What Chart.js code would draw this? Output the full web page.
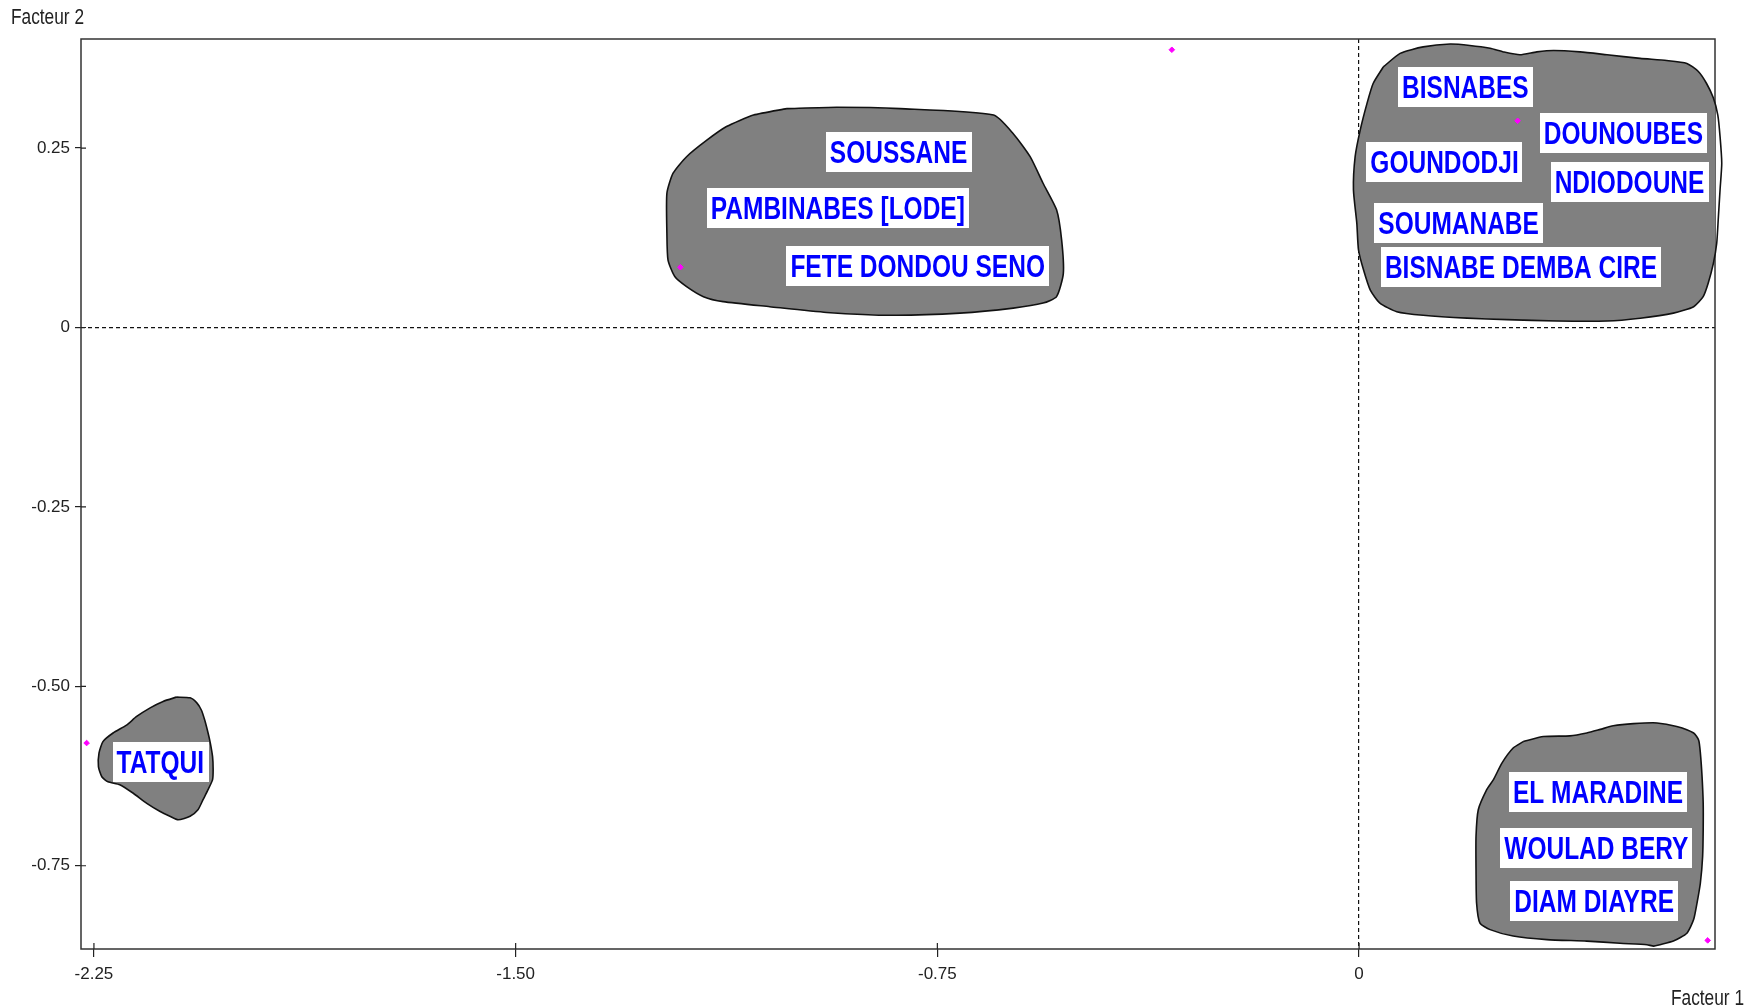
<!DOCTYPE html>
<html>
<head>
<meta charset="utf-8">
<title>Facteur 1 / Facteur 2</title>
<script src="https://cdn.jsdelivr.net/npm/chart.js@4.4.1/dist/chart.umd.min.js"></script>
<style>
  html, body { margin: 0; padding: 0; background: #ffffff; }
  #wrap { width: 1760px; height: 1007px; }
</style>
</head>
<body>
<div id="wrap"><canvas id="plan"></canvas></div>
<script>
// Axis ticks
const xTickValues = [-2.25, -1.5, -0.75, 0];
const xTickLabels = ['-2.25', '-1.50', '-0.75', '0'];
const yTickValues = [-0.75, -0.5, -0.25, 0, 0.25];
const yTickLabels = ['-0.75', '-0.50', '-0.25', '0', '0.25'];
const xRange = [-2.273, 0.633];
const yRange = [-0.866, 0.402];

// Observation points (Facteur 1, Facteur 2)
const pointX = [-0.333, 0.282, -1.207, -2.263, 0.620];
const pointY = [0.387, 0.288, 0.084, -0.579, -0.854];

// Cluster outlines, in factor units
const clusterCentre = [
    [-1.018, 0.305], [-0.929, 0.307], [-0.816, 0.305], [-0.650, 0.296], [-0.615, 0.270],
    [-0.585, 0.238], [-0.562, 0.201], [-0.538, 0.164], [-0.529, 0.122], [-0.526, 0.075],
    [-0.538, 0.043], [-0.562, 0.034], [-0.615, 0.027], [-0.710, 0.020], [-0.828, 0.017],
    [-0.947, 0.021], [-1.048, 0.029], [-1.131, 0.036], [-1.166, 0.043], [-1.196, 0.057],
    [-1.217, 0.071], [-1.229, 0.094], [-1.231, 0.131], [-1.231, 0.187], [-1.220, 0.215],
    [-1.196, 0.238], [-1.160, 0.261], [-1.125, 0.280], [-1.077, 0.296]
];
const clusterNordEst = [
    [0.043, 0.363], [0.073, 0.382], [0.114, 0.391], [0.162, 0.395], [0.197, 0.393],
    [0.233, 0.389], [0.257, 0.384], [0.286, 0.380], [0.316, 0.384], [0.346, 0.386],
    [0.393, 0.384], [0.441, 0.380], [0.500, 0.375], [0.547, 0.372], [0.583, 0.368],
    [0.603, 0.357], [0.618, 0.340], [0.630, 0.320], [0.638, 0.296], [0.642, 0.266],
    [0.645, 0.229], [0.642, 0.192], [0.639, 0.154], [0.636, 0.117], [0.630, 0.089],
    [0.621, 0.062], [0.612, 0.043], [0.595, 0.029], [0.559, 0.020], [0.500, 0.013],
    [0.441, 0.009], [0.352, 0.009], [0.263, 0.011], [0.192, 0.013], [0.114, 0.017],
    [0.067, 0.022], [0.037, 0.034], [0.020, 0.052], [0.008, 0.080], [-0.001, 0.108],
    [-0.004, 0.145], [-0.010, 0.192], [-0.007, 0.238], [0.002, 0.275], [0.014, 0.312],
    [0.025, 0.340]
];
const clusterOuest = [
    [-2.103, -0.515], [-2.079, -0.516], [-2.067, -0.523], [-2.059, -0.533], [-2.053, -0.547],
    [-2.047, -0.565], [-2.043, -0.579], [-2.039, -0.598], [-2.038, -0.616], [-2.039, -0.630],
    [-2.047, -0.644], [-2.056, -0.658], [-2.065, -0.672], [-2.079, -0.681], [-2.100, -0.686],
    [-2.115, -0.681], [-2.133, -0.674], [-2.156, -0.663], [-2.180, -0.649], [-2.204, -0.637],
    [-2.225, -0.633], [-2.236, -0.626], [-2.242, -0.612], [-2.241, -0.593], [-2.234, -0.577],
    [-2.216, -0.565], [-2.192, -0.554], [-2.174, -0.542], [-2.150, -0.530], [-2.127, -0.521]
];
const clusterSudEst = [
    [0.292, -0.577], [0.328, -0.570], [0.375, -0.569], [0.405, -0.565], [0.429, -0.560],
    [0.452, -0.555], [0.488, -0.552], [0.530, -0.551], [0.565, -0.556], [0.595, -0.565],
    [0.604, -0.575], [0.607, -0.593], [0.610, -0.626], [0.612, -0.663], [0.612, -0.700],
    [0.611, -0.737], [0.607, -0.774], [0.601, -0.802], [0.595, -0.825], [0.583, -0.844],
    [0.559, -0.855], [0.535, -0.860], [0.524, -0.862], [0.512, -0.860], [0.464, -0.858],
    [0.405, -0.855], [0.334, -0.853], [0.274, -0.848], [0.233, -0.839], [0.215, -0.830],
    [0.209, -0.802], [0.208, -0.756], [0.208, -0.709], [0.212, -0.672], [0.227, -0.644],
    [0.239, -0.630], [0.254, -0.607], [0.274, -0.586]
];

// Village labels, centred on (labelX, labelY)
const labelNames = ['SOUSSANE', 'PAMBINABES [LODE]', 'FETE DONDOU SENO',
    'BISNABES', 'DOUNOUBES', 'GOUNDODJI', 'NDIODOUNE', 'SOUMANABE', 'BISNABE DEMBA CIRE',
    'TATQUI', 'EL MARADINE', 'WOULAD BERY', 'DIAM DIAYRE'];
const labelX = [-0.819, -0.927, -0.785, 0.189, 0.470, 0.152, 0.481, 0.177, 0.288,
    -2.132, 0.425, 0.422, 0.418];
const labelY = [0.245, 0.167, 0.086, 0.335, 0.271, 0.231, 0.203, 0.146, 0.084,
    -0.605, -0.647, -0.725, -0.799];

const toXY = arr => {
    const pts = arr.map(p => ({ x: p[0], y: p[1] }));
    pts.push({ x: arr[0][0], y: arr[0][1] });
    return pts;
};

// text in the picture is drawn tall and narrow
const STRETCH = 1.26;
function tallText(ctx, text, x, yMid, size, weight, align) {
    ctx.save();
    ctx.font = weight + ' ' + size + 'px "Liberation Sans", Arial, sans-serif';
    ctx.textAlign = align;
    ctx.textBaseline = 'alphabetic';
    ctx.translate(x, yMid);
    ctx.scale(1, STRETCH);
    ctx.fillText(text, 0, size * 0.716 / 2);
    ctx.restore();
}

const framePlugin = {
    id: 'frame',
    beforeDatasetsDraw(chart) {
        const { ctx, chartArea: a, scales } = chart;
        ctx.save();
        ctx.strokeStyle = '#333333';
        ctx.lineWidth = 1.5;
        ctx.strokeRect(a.left, a.top, a.right - a.left, a.bottom - a.top);
        // inner half of the tick marks
        ctx.lineWidth = 1.2;
        ctx.strokeStyle = '#222222';
        ctx.beginPath();
        scales.x.ticks.forEach(t => {
            const px = scales.x.getPixelForValue(t.value);
            ctx.moveTo(px, a.bottom);
            ctx.lineTo(px, a.bottom - 6);
        });
        scales.y.ticks.forEach(t => {
            const py = scales.y.getPixelForValue(t.value);
            ctx.moveTo(a.left, py);
            ctx.lineTo(a.left + 5, py);
        });
        ctx.stroke();
        ctx.restore();
    }
};

const labelPlugin = {
    id: 'villageLabels',
    afterDatasetsDraw(chart) {
        const { ctx, scales } = chart;
        const size = 24.5;
        labelNames.forEach((name, i) => {
            const cx = scales.x.getPixelForValue(labelX[i]);
            const cy = scales.y.getPixelForValue(labelY[i]);
            ctx.save();
            ctx.font = 'bold ' + size + 'px "Liberation Sans", Arial, sans-serif';
            const w = ctx.measureText(name).width + 8;
            const h = 40;
            ctx.fillStyle = '#ffffff';
            ctx.fillRect(Math.round(cx - w / 2), Math.round(cy - h / 2), Math.round(w), h);
            ctx.fillStyle = '#0000ff';
            tallText(ctx, name, cx, cy, size, 'bold', 'center');
            ctx.restore();
        });
        // axis names
        ctx.save();
        ctx.fillStyle = '#222222';
        tallText(ctx, 'Facteur 2', 11, 16, 17.3, 'normal', 'left');
        tallText(ctx, 'Facteur 1', 1744, 997, 17.3, 'normal', 'right');
        ctx.restore();
    }
};

const blob = (data) => ({
    type: 'line',
    data: toXY(data),
    showLine: true,
    fill: 'shape',
    backgroundColor: '#808080',
    borderColor: '#111111',
    borderWidth: 1.6,
    pointRadius: 0,
    tension: 0.2,
    clip: 10
});

const tickFont = { family: '"Liberation Sans Narrow", "Liberation Sans", Arial, sans-serif', size: 17 };

new Chart(document.getElementById('plan'), {
    type: 'line',
    data: {
        datasets: [
            {
                type: 'scatter',
                label: 'points',
                data: pointX.map((x, i) => ({ x: x, y: pointY[i] })),
                backgroundColor: '#ff00ff',
                borderColor: '#ff00ff',
                pointRadius: 2.8,
                pointStyle: 'rectRot',
                clip: 10
            },
            blob(clusterCentre),
            blob(clusterNordEst),
            blob(clusterOuest),
            blob(clusterSudEst)
        ]
    },
    options: {
        responsive: true,
        maintainAspectRatio: false,
        animation: false,
        devicePixelRatio: 1,
        layout: { padding: { top: 39, right: 45, left: 0, bottom: 0 } },
        plugins: {
            legend: { display: false },
            tooltip: { enabled: false }
        },
        scales: {
            x: {
                type: 'linear',
                min: xRange[0],
                max: xRange[1],
                afterBuildTicks: s => { s.ticks = xTickValues.map(v => ({ value: v })); },
                afterFit: s => { s.height = 58; },
                ticks: {
                    autoSkip: false,
                    maxRotation: 0,
                    color: '#222222',
                    font: tickFont,
                    padding: 7,
                    callback: (v) => xTickLabels[xTickValues.indexOf(v)]
                },
                grid: {
                    color: c => (c.tick && c.tick.value === 0 ? '#111111' : 'rgba(0,0,0,0)'),
                    tickColor: '#222222',
                    tickLength: 8,
                    lineWidth: 1.2,
                    tickWidth: 1.2
                },
                border: { display: false, dash: [4, 3] }
            },
            y: {
                type: 'linear',
                min: yRange[0],
                max: yRange[1],
                afterBuildTicks: s => { s.ticks = yTickValues.map(v => ({ value: v })); },
                afterFit: s => { s.width = 81; },
                ticks: {
                    autoSkip: false,
                    color: '#222222',
                    font: tickFont,
                    padding: 5,
                    callback: (v) => yTickLabels[yTickValues.indexOf(v)]
                },
                grid: {
                    color: c => (c.tick && c.tick.value === 0 ? '#111111' : 'rgba(0,0,0,0)'),
                    tickColor: '#222222',
                    tickLength: 6,
                    lineWidth: 1.2,
                    tickWidth: 1.2
                },
                border: { display: false, dash: [4, 3] }
            }
        }
    },
    plugins: [framePlugin, labelPlugin]
});
</script>
</body>
</html>
